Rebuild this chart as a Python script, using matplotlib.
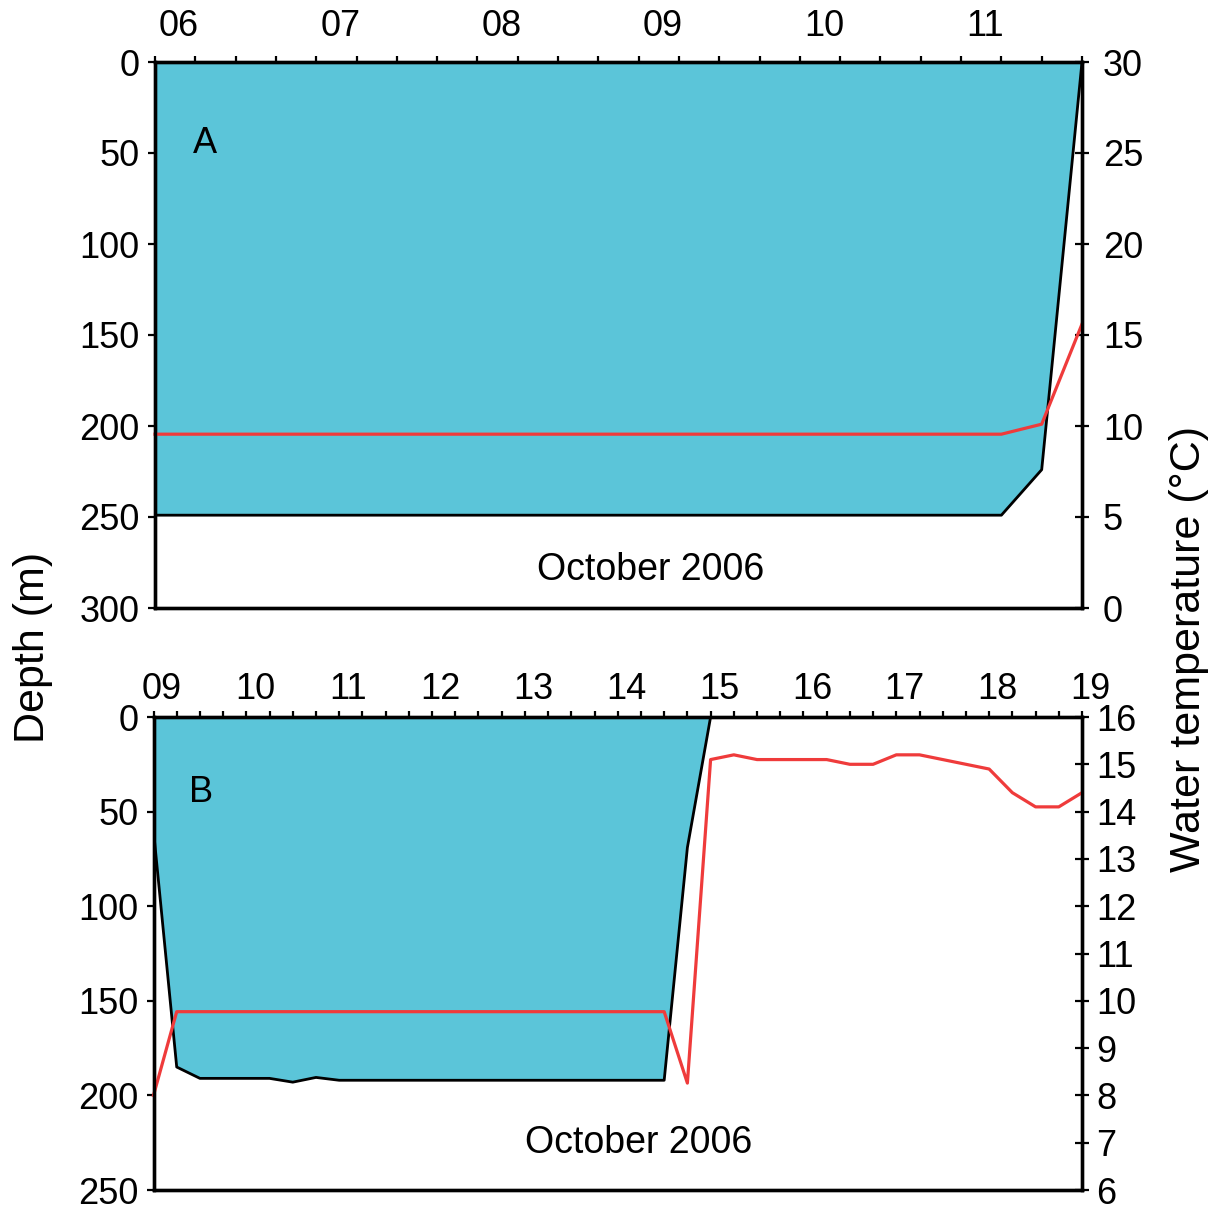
import numpy as np
import matplotlib
matplotlib.use("Agg")
import matplotlib.pyplot as plt
from matplotlib.transforms import ScaledTranslation

plt.rcParams['font.family'] = ['Liberation Sans', 'DejaVu Sans']

# panel A: days in October 2006
day_labels_a = ['06', '07', '08', '09', '10', '11']
days_a = [6, 7, 8, 9, 10, 11]
depth_day_a = [6.0, 11.25, 11.5, 11.75]
depth_a = [249, 249, 224, 0]
temp_day_a = [6.0, 11.25, 11.5, 11.75]
temp_a = [9.55, 9.55, 10.1, 15.6]

# panel B
day_labels_b = ['09', '10', '11', '12', '13', '14', '15', '16', '17', '18', '19']
days_b = [9, 10, 11, 12, 13, 14, 15, 16, 17, 18, 19]
depth_day_b = [9.0, 9.25, 9.5, 10.25, 10.5, 10.75, 11.0, 14.5, 14.75, 15.0]
depth_b = [60, 185, 191, 191, 193, 190.5, 192, 192, 69, 0]
temp_day_b = [9.0, 9.25, 14.5, 14.75, 15.0, 15.25, 15.5, 16.25, 16.5, 16.75,
              17.0, 17.25, 18.0, 18.25, 18.5, 18.75, 19.0]
temp_b = [8.0, 9.77, 9.77, 8.26, 15.1, 15.2, 15.1, 15.1, 15.0, 15.0,
          15.2, 15.2, 14.9, 14.4, 14.1, 14.1, 14.4]

fill_col = '#5bc5d9'
red = '#ef3b3b'
W, H = 1222, 1217

fig = plt.figure(figsize=(W / 100, H / 100), dpi=100)


def setup(ax, axt, days, labels, xlim, ylim, yticks, tlim, tticks, dx, xpad, tpad):
    ax.set_xlim(*xlim)
    ax.set_ylim(*ylim)
    ax.xaxis.tick_top()
    ax.set_xticks(days, labels)
    ax.set_xticks(np.arange(xlim[0], xlim[1] + 0.01, 0.25), minor=True)
    ax.tick_params(axis='x', which='both', direction='out', length=4, width=1.6,
                   labelsize=26, pad=xpad, top=True, bottom=False)
    for lab in ax.get_xticklabels():
        lab.set_transform(lab.get_transform() + ScaledTranslation(dx, 0, fig.dpi_scale_trans))
    ax.set_yticks(yticks)
    ax.tick_params(axis='y', direction='out', length=5, width=1.6, labelsize=26, pad=6)
    axt.set_ylim(*tlim)
    axt.set_yticks(tticks)
    axt.tick_params(axis='y', direction='inout', length=10, width=1.6, labelsize=26, pad=tpad)
    for a in (ax, axt):
        for s in a.spines.values():
            s.set_linewidth(2.4)


# ---- panel A
ax1 = fig.add_axes([155 / W, 1 - 608 / H, (1082 - 155) / W, (608 - 62) / H])
ax1.fill_between(depth_day_a, 0, depth_a, color=fill_col, lw=0)
ax1.plot(depth_day_a, depth_a, color='black', lw=2)
ax1t = ax1.twinx()
ax1t.plot(temp_day_a, temp_a, color=red, lw=2.3, clip_on=False)
setup(ax1, ax1t, days_a, day_labels_a, (6.0, 11.75), (300, 0), range(0, 301, 50),
      (0, 30), range(0, 31, 5), 0.24, 9, 10)
ax1.text(0.054, 0.85, 'A', transform=ax1.transAxes, fontsize=26, ha='center', va='center')
ax1.text(0.535, 0.07, 'October 2006', transform=ax1.transAxes, fontsize=27,
         ha='center', va='center')

# ---- panel B
ax2 = fig.add_axes([153.5 / W, 1 - 1190 / H, (1082 - 153.5) / W, (1190 - 717) / H])
ax2.fill_between(depth_day_b, 0, depth_b, color=fill_col, lw=0)
ax2.plot(depth_day_b, depth_b, color='black', lw=2)
ax2t = ax2.twinx()
ax2t.plot(temp_day_b, temp_b, color=red, lw=2.3, clip_on=False)
setup(ax2, ax2t, days_b, day_labels_b, (9.0, 19.0), (250, 0), range(0, 251, 50),
      (6, 16), range(6, 17, 1), 0.085, 3, 5)
ax2.text(0.051, 0.84, 'B', transform=ax2.transAxes, fontsize=26, ha='center', va='center')
ax2.text(0.523, 0.10, 'October 2006', transform=ax2.transAxes, fontsize=27,
         ha='center', va='center')

fig.text(33 / W, 1 - 647 / H, 'Depth (m)', rotation=90, fontsize=31, ha='center', va='center')
fig.text(1189 / W, 1 - 649 / H, 'Water temperature (°C)', rotation=90, fontsize=31,
         ha='center', va='center')

fig.savefig('out.png', dpi=100)
